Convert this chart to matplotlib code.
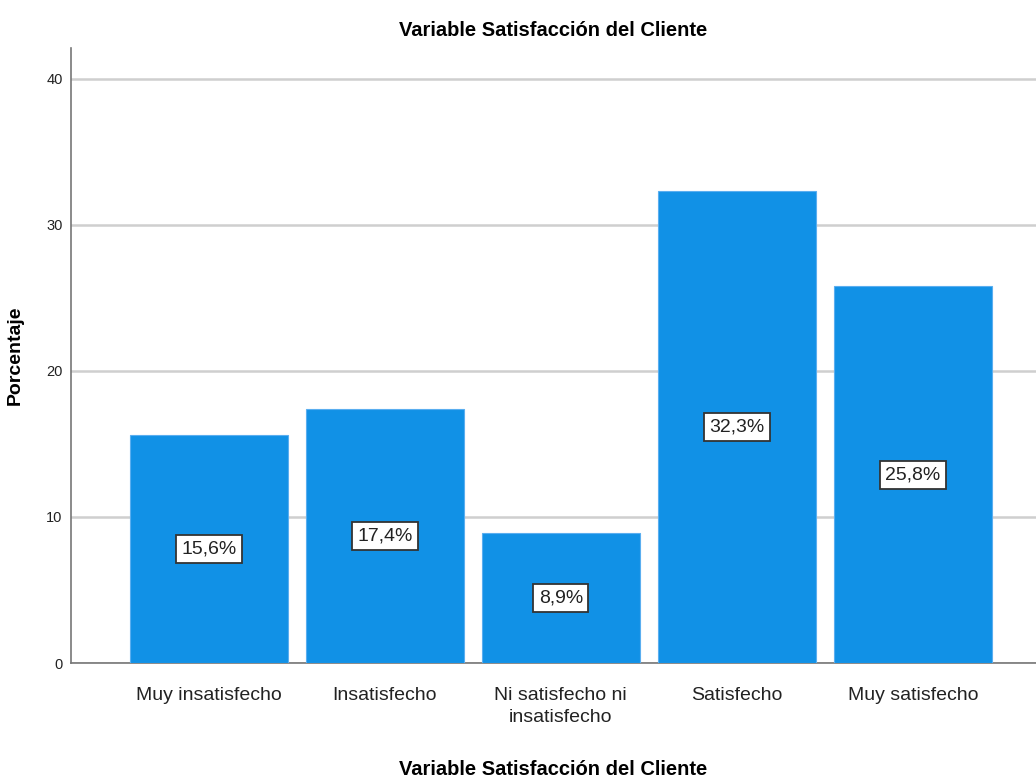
import numpy as np
import matplotlib.pyplot as plt
from matplotlib import font_manager

categorias = ['Muy insatisfecho', 'Insatisfecho', 'Ni satisfecho ni\ninsatisfecho',
              'Satisfecho', 'Muy satisfecho']
porcentajes = [15.6, 17.4, 8.9, 32.3, 25.8]
etiquetas = ['15,6%', '17,4%', '8,9%', '32,3%', '25,8%']
yticks = [0, 10, 20, 30, 40]

nombres = {f.name for f in font_manager.fontManager.ttflist}
familias = [f for f in ['Liberation Sans Narrow', 'Liberation Sans']
            if f in nombres] + ['DejaVu Sans']
plt.rcParams['font.family'] = familias

fig = plt.figure(figsize=(10.36, 7.78), dpi=100)
ax = fig.add_axes([0.0685, 0.1478, 0.9315, 0.7905])

x = np.arange(len(categorias))
ax.bar(x, porcentajes, width=0.9, color='#1191e6', edgecolor='#5aaef0',
       linewidth=0.8, zorder=3)

for xi, v, t in zip(x, porcentajes, etiquetas):
    ax.text(xi, v / 2, t, ha='center', va='center', fontsize=14, color='#222222',
            zorder=4,
            bbox=dict(boxstyle='square,pad=0.28', fc='white', ec='#333333', lw=1.3))

ax.set_xlim(-0.784, 4.70)
ax.set_ylim(0, 42.1)
ax.set_yticks(yticks)
ax.set_xticks(x)
ax.set_xticklabels(categorias, fontsize=14, color='#222222', linespacing=1.45)
ax.tick_params(axis='y', length=0, pad=6, labelsize=10.5, labelcolor='#222222')
ax.tick_params(axis='x', length=0, pad=17)
ax.yaxis.grid(True, color='#cfcfcf', linewidth=1.8, zorder=0)
ax.set_axisbelow(True)

for s in ['top', 'right']:
    ax.spines[s].set_visible(False)
for s in ['left', 'bottom']:
    ax.spines[s].set_color('#777777')
    ax.spines[s].set_linewidth(1.2)

ax.set_title('Variable Satisfacción del Cliente', fontsize=14.5, fontweight='bold', pad=9)
ax.set_xlabel('Variable Satisfacción del Cliente', fontsize=14.5, fontweight='bold', labelpad=24)
ax.set_ylabel('Porcentaje', fontsize=14, fontweight='bold', labelpad=16)

fig.savefig('out.png', dpi=100)
